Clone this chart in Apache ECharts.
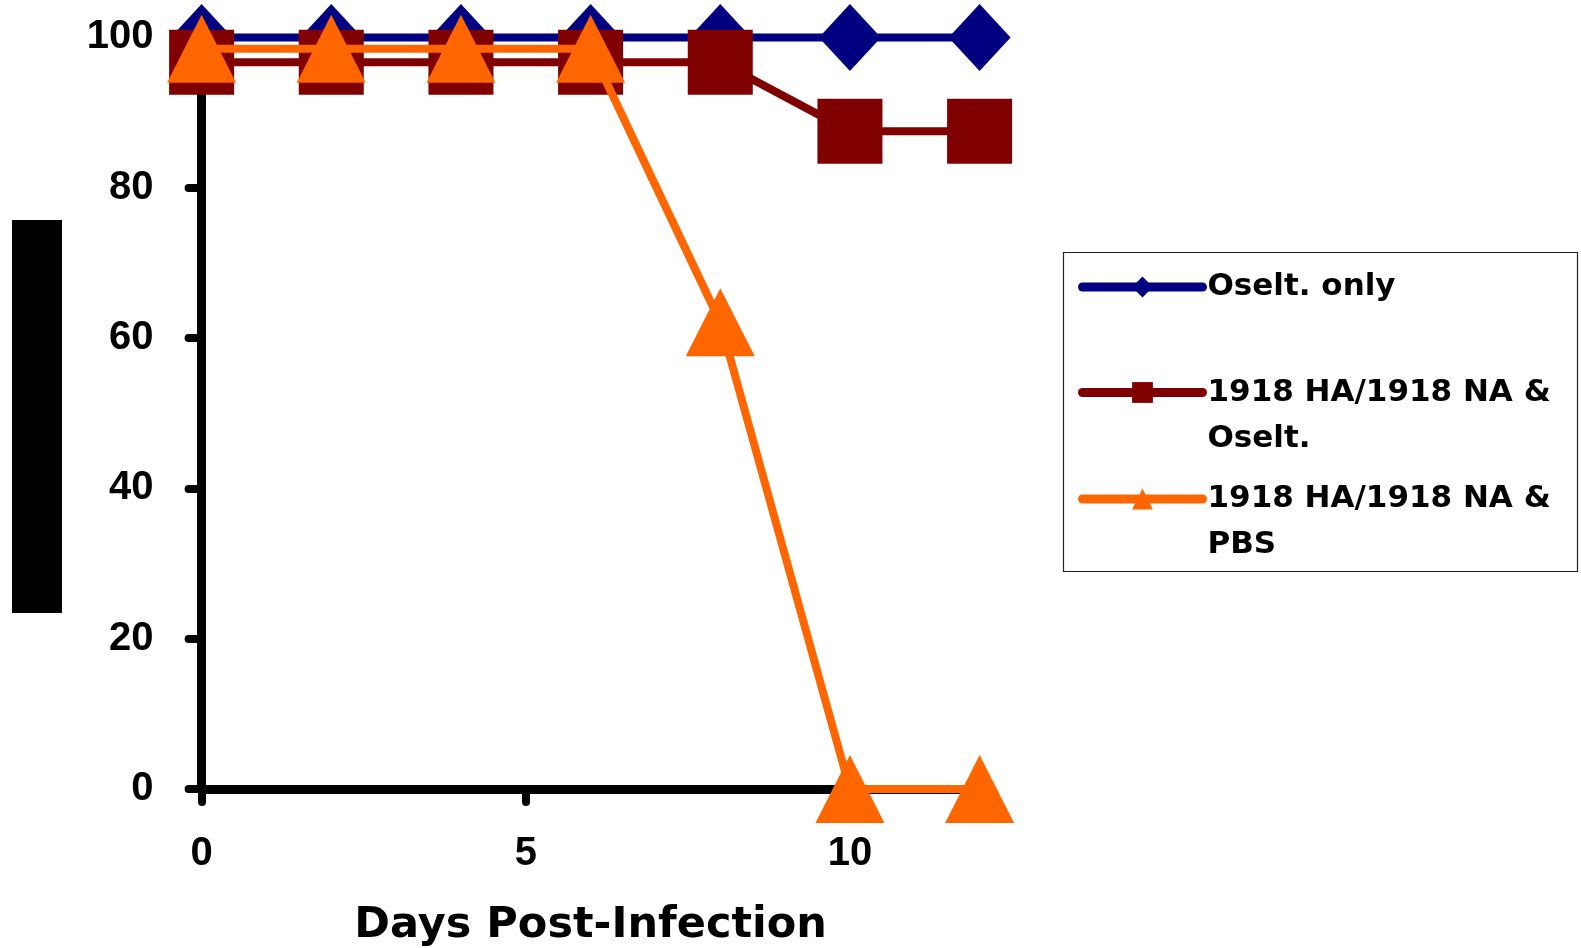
<!DOCTYPE html>
<html>
<head>
<meta charset="utf-8">
<script src="https://cdn.jsdelivr.net/npm/echarts@6/dist/echarts.min.js"></script>
<style>
html,body{margin:0;padding:0;background:#fff;}
#chart{width:1581px;height:948px;}
</style>
</head>
<body>
<div id="chart"></div>
<script>
// ---- data ----
const days = [0, 2, 4, 6, 8, 10, 12];
const osEltOnly = [100, 100, 100, 100, 100, 100, 100];
const haNaOselt = [96.7, 96.7, 96.7, 96.7, 96.7, 87.5, 87.5];
const haNaPBS = [98.5, 98.5, 98.5, 98.5, 62.1, 0, 0];
const seriesNames = ['Oselt. only', '1918 HA/1918 NA & Oselt.', '1918 HA/1918 NA & PBS'];
const legendLabels = ['Oselt. only', '\n1918 HA/1918 NA &\nOselt.', '\n1918 HA/1918 NA &\nPBS'];
const xTicks = [0, 5, 10];
const yTicks = [0, 20, 40, 60, 80, 100];
const xAxisTitle = 'Days Post-Infection';

const colors = ['#000080', '#800000', '#FF6600'];
const symbols = ['diamond', 'rect', 'triangle'];
const symbolSizes = [[62, 67], [65, 65], [69, 68]];
const values = [osEltOnly, haNaOselt, haNaPBS];

const chart = echarts.init(document.getElementById('chart'), null, {renderer: 'canvas'});

const legendTops = [264, 323.5, 430];
const legends = seriesNames.map((n, i) => ({
  data: [n],
  orient: 'vertical',
  left: 1078,
  top: legendTops[i],
  padding: 0,
  itemWidth: 120,
  itemHeight: 26,
  selectedMode: false,
  lineStyle: {width: 9, cap: 'round'},
  formatter: function (name) { return legendLabels[seriesNames.indexOf(name)]; },
  textStyle: {
    fontFamily: 'DejaVu Sans',
    fontWeight: 'bold',
    fontSize: 31,
    lineHeight: 46,
    color: '#000'
  }
}));

const option = {
  animation: false,
  backgroundColor: '#fff',
  grid: {left: 201.6, top: 37.4, width: 778, height: 751.6, containLabel: false, outerBoundsMode: 'none'},
  legend: legends,
  graphic: [
    {type: 'rect', shape: {x: 12, y: 220, width: 50, height: 393}, style: {fill: '#000'}},
    {type: 'rect', shape: {x: 1063.5, y: 252.5, width: 514, height: 319}, style: {fill: 'none', stroke: '#222', lineWidth: 1.2}, z: -1}
  ],
  xAxis: {
    type: 'value',
    min: 0, max: 12,
    name: xAxisTitle,
    nameLocation: 'middle',
    nameGap: 115,
    nameTextStyle: {fontFamily: 'DejaVu Sans', fontWeight: 'bold', fontSize: 43, color: '#000'},
    splitLine: {show: false},
    axisLine: {show: true, onZero: false, lineStyle: {color: '#000', width: 9, cap: 'round'}},
    axisTick: {show: true, inside: false, length: 13, customValues: xTicks, lineStyle: {color: '#000', width: 8, cap: 'round'}},
    axisLabel: {show: true, margin: 45, customValues: xTicks, fontFamily: 'Liberation Sans', fontWeight: 'bold', fontSize: 40, color: '#000'}
  },
  yAxis: {
    type: 'value',
    min: 0, max: 100, interval: 20,
    splitLine: {show: false},
    axisLine: {show: true, onZero: false, lineStyle: {color: '#000', width: 9, cap: 'round'}},
    axisTick: {show: true, inside: false, length: 13, customValues: yTicks, lineStyle: {color: '#000', width: 8, cap: 'round'}},
    axisLabel: {show: true, margin: 48, customValues: yTicks, fontFamily: 'Liberation Sans', fontWeight: 'bold', fontSize: 40, color: '#000'}
  },
  series: seriesNames.map((n, i) => ({
    name: n,
    type: 'line',
    data: days.map((d, j) => [d, values[i][j]]),
    symbol: symbols[i],
    symbolSize: symbolSizes[i],
    showAllSymbol: true,
    clip: false,
    z: 2 + i,
    color: colors[i],
    lineStyle: {color: colors[i], width: 8, cap: 'round'},
    itemStyle: {color: colors[i], opacity: 1},
    emphasis: {disabled: true}
  }))
};
chart.setOption(option);
</script>
</body>
</html>
